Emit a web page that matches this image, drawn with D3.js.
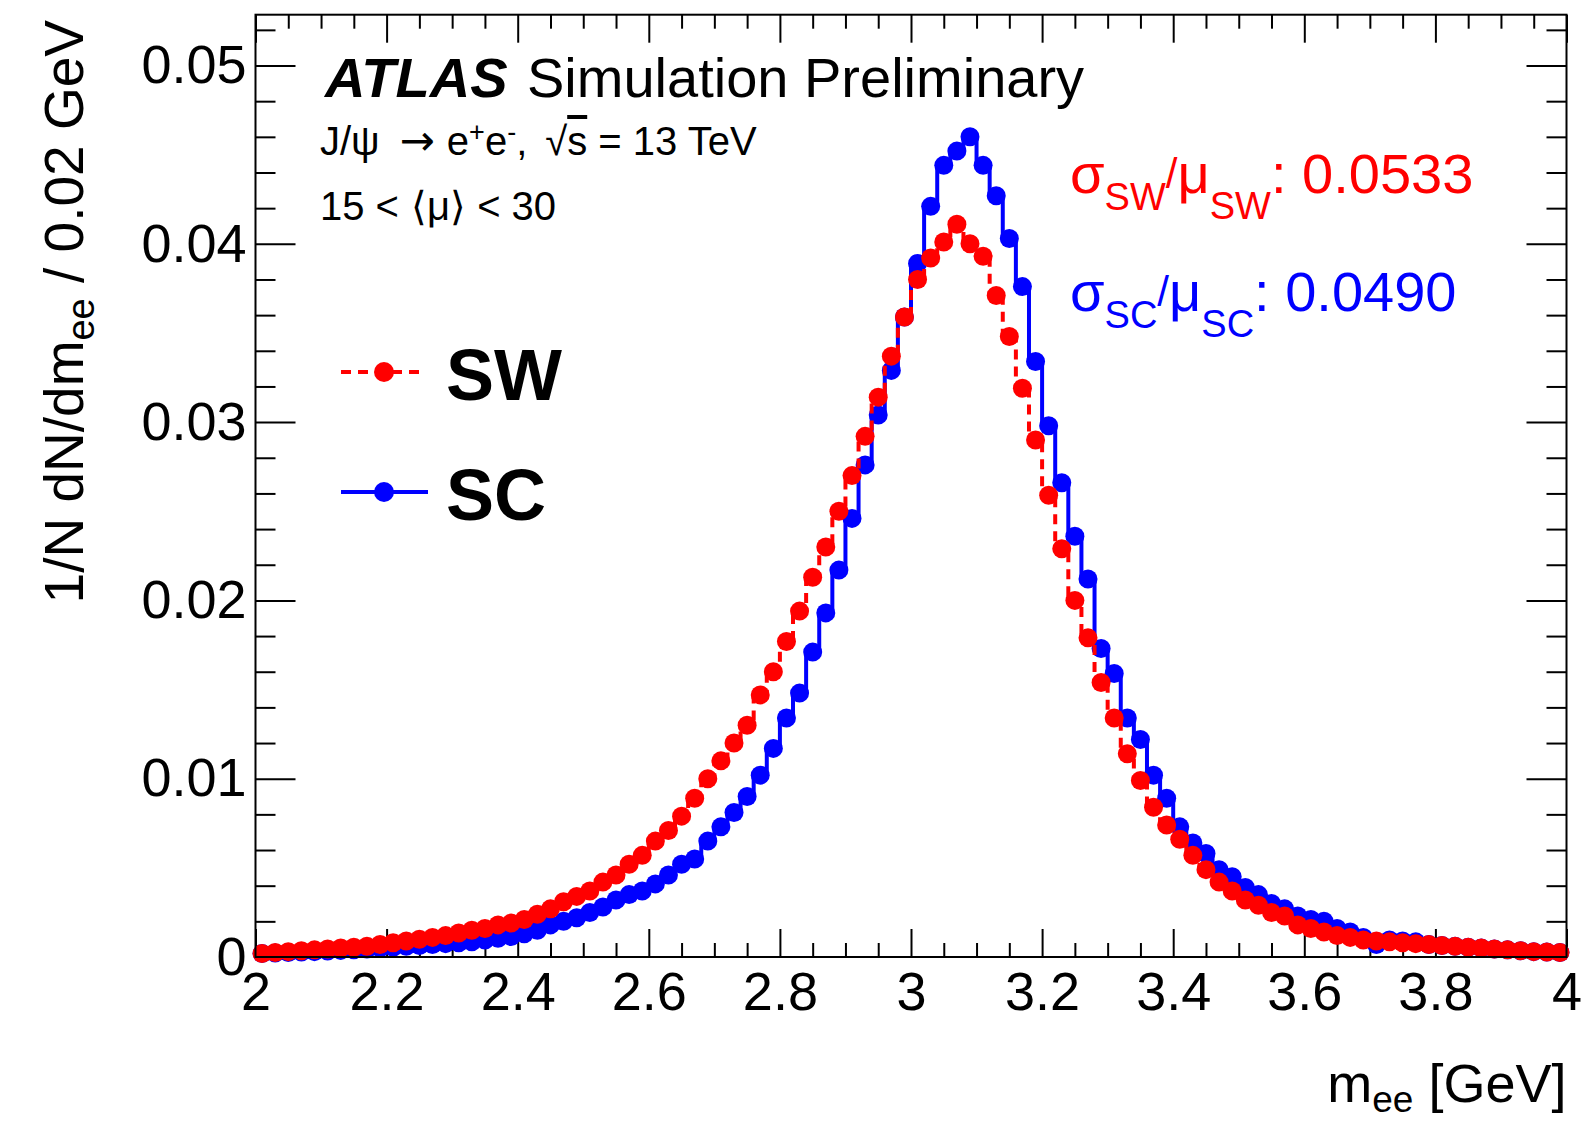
<!DOCTYPE html>
<html>
<head>
<meta charset="utf-8">
<script src="https://cdn.jsdelivr.net/npm/d3@7"></script>
<style>
  html, body { margin: 0; padding: 0; background: #fff; }
  svg { display: block; font-family: "Liberation Sans", Arial, Helvetica, sans-serif; }
</style>
</head>
<body>
<script>
// ---------------- data ----------------
const xMin = 2, xMax = 4, nBins = 100;
const yMax = 0.05285;
const xMajorTicks = [2, 2.2, 2.4, 2.6, 2.8, 3, 3.2, 3.4, 3.6, 3.8, 4];
const xTickLabels = ["2", "2.2", "2.4", "2.6", "2.8", "3", "3.2", "3.4", "3.6", "3.8", "4"];
const yMajorTicks = [0, 0.01, 0.02, 0.03, 0.04, 0.05];
const yTickLabels = ["0", "0.01", "0.02", "0.03", "0.04", "0.05"];

// SW (red, dashed)
const swValues = [
  0.0002, 0.00025, 0.0003, 0.00035, 0.0004, 0.00045, 0.0005, 0.00055, 0.0006, 0.0007,
  0.0008, 0.0009, 0.0010, 0.0011, 0.0012, 0.00135, 0.0015, 0.0016, 0.0018, 0.0019,
  0.0021, 0.0024, 0.0027, 0.0031, 0.0034, 0.0037, 0.0042, 0.0046, 0.0052, 0.0057,
  0.0065, 0.0071, 0.0079, 0.0089, 0.0100, 0.0110, 0.0120, 0.0130, 0.0147, 0.0160,
  0.0177, 0.0194, 0.0213, 0.0230, 0.0250, 0.0270, 0.0292, 0.0314, 0.0337, 0.0359,
  0.0380, 0.0392, 0.0401, 0.0411, 0.0400, 0.0393, 0.0371, 0.0348, 0.0319, 0.0290,
  0.0259, 0.0229, 0.0200, 0.0179, 0.0154, 0.0134, 0.0114, 0.0099, 0.0084, 0.0074,
  0.0066, 0.0057, 0.0049, 0.0042, 0.0037, 0.0032, 0.0029, 0.0025, 0.0023, 0.0018,
  0.0016, 0.0014, 0.0012, 0.0011, 0.00095, 0.0009, 0.00085, 0.0008, 0.00075, 0.0007,
  0.00065, 0.0006, 0.00055, 0.0005, 0.00045, 0.0004, 0.00035, 0.0003, 0.00028, 0.00025
];
// SC (blue, solid)
const scValues = [
  0.0002, 0.00022, 0.00025, 0.00028, 0.0003, 0.00033, 0.00037, 0.0004, 0.00045, 0.0005,
  0.00055, 0.0006, 0.00065, 0.0007, 0.00075, 0.0008, 0.00085, 0.00095, 0.00105, 0.00115,
  0.0013, 0.0015, 0.0018, 0.0020, 0.0022, 0.0025, 0.0028, 0.0032, 0.0035, 0.0037,
  0.0041, 0.0046, 0.0052, 0.0055, 0.0065, 0.0073, 0.0081, 0.0090, 0.0102, 0.0117,
  0.0134, 0.0148, 0.0171, 0.0193, 0.0217, 0.0246, 0.0276, 0.0304, 0.0329, 0.0359,
  0.0389, 0.0421, 0.0444, 0.0452, 0.0460, 0.0444, 0.0427, 0.0403, 0.0376, 0.0334,
  0.0298, 0.0266, 0.0236, 0.0212, 0.0173, 0.0159, 0.0134, 0.0122, 0.0102, 0.0089,
  0.0073, 0.0064, 0.0058, 0.0049, 0.0045, 0.0039, 0.0035, 0.0030, 0.0027, 0.0023,
  0.0021, 0.0020, 0.0016, 0.0014, 0.0011, 0.0007, 0.00095, 0.0009, 0.00085, 0.0007,
  0.00065, 0.0006, 0.00055, 0.0005, 0.00045, 0.0004, 0.00035, 0.0003, 0.00028, 0.00025
];
const seriesNames = ["SW", "SC"];
const seriesColors = ["#ff0000", "#0000ff"];
const ratioValues = ["0.0533", "0.0490"];

// ---------------- layout ----------------
const W = 1595, H = 1123;
const L = 255.5, R = 1566.5, T = 14.7, B = 957;
const FONT = '"Liberation Sans", Arial, Helvetica, sans-serif';

const svg = d3.select("body").append("svg")
  .attr("width", W).attr("height", H).attr("viewBox", `0 0 ${W} ${H}`);
svg.append("rect").attr("width", W).attr("height", H).attr("fill", "#fff");

const x = d3.scaleLinear().domain([xMin, xMax]).range([L, R]);
const y = d3.scaleLinear().domain([0, yMax]).range([B, T]);

const binW = (xMax - xMin) / nBins;
const xMinor = d3.range(0, 41).map(i => xMin + 0.05 * i).filter(v => Math.abs((v - xMin) / 0.2 - Math.round((v - xMin) / 0.2)) > 1e-6);
const yMinor = d3.range(0, 27).map(i => 0.002 * i).filter(v => v <= yMax && Math.abs(v / 0.01 - Math.round(v / 0.01)) > 1e-6);

function styleAxis(g) {
  g.select(".domain").remove();
  g.selectAll(".tick line").attr("stroke", "#000").attr("stroke-width", 2);
  g.selectAll(".tick text").attr("fill", "#000").attr("font-family", FONT).attr("font-size", 54);
}

// bottom axis
svg.append("g").attr("transform", `translate(0,${B})`)
  .call(d3.axisBottom(x).tickValues(xMajorTicks).tickSize(-28).tickPadding(15)
    .tickFormat((d, i) => xTickLabels[i]))
  .call(styleAxis);
svg.append("g").attr("transform", `translate(0,${B})`)
  .call(d3.axisBottom(x).tickValues(xMinor).tickSize(-14).tickFormat(""))
  .call(styleAxis);
// top axis
svg.append("g").attr("transform", `translate(0,${T})`)
  .call(d3.axisTop(x).tickValues(xMajorTicks).tickSize(-28).tickFormat(""))
  .call(styleAxis);
svg.append("g").attr("transform", `translate(0,${T})`)
  .call(d3.axisTop(x).tickValues(xMinor).tickSize(-14).tickFormat(""))
  .call(styleAxis);
// left axis
svg.append("g").attr("transform", `translate(${L},0)`)
  .call(d3.axisLeft(y).tickValues(yMajorTicks).tickSize(-40).tickPadding(9)
    .tickFormat((d, i) => yTickLabels[i]))
  .call(styleAxis);
svg.append("g").attr("transform", `translate(${L},0)`)
  .call(d3.axisLeft(y).tickValues(yMinor).tickSize(-20).tickFormat(""))
  .call(styleAxis);
// right axis
svg.append("g").attr("transform", `translate(${R},0)`)
  .call(d3.axisRight(y).tickValues(yMajorTicks).tickSize(-40).tickFormat(""))
  .call(styleAxis);
svg.append("g").attr("transform", `translate(${R},0)`)
  .call(d3.axisRight(y).tickValues(yMinor).tickSize(-20).tickFormat(""))
  .call(styleAxis);

// ---------------- histograms ----------------
const plot = svg.append("g");
function stepPoints(vals) {
  const pts = vals.map((v, i) => [xMin + i * binW, v]);
  pts.push([xMax, vals[vals.length - 1]]);
  return pts;
}
const stepLine = d3.line().x(d => x(d[0])).y(d => y(d[1])).curve(d3.curveStepAfter);

function drawSeries(vals, color, dash) {
  plot.append("path").datum(stepPoints(vals))
    .attr("d", stepLine).attr("fill", "none").attr("stroke", color)
    .attr("stroke-width", 4).attr("stroke-dasharray", dash);
  plot.append("g").selectAll("circle").data(vals).join("circle")
    .attr("cx", (d, i) => x(xMin + (i + 0.5) * binW))
    .attr("cy", d => y(d))
    .attr("r", 9.5).attr("fill", color);
}
drawSeries(scValues, seriesColors[1], null);
drawSeries(swValues, seriesColors[0], "10,7");

// frame
svg.append("rect").attr("x", L).attr("y", T).attr("width", R - L).attr("height", B - T)
  .attr("fill", "none").attr("stroke", "#000").attr("stroke-width", 2);

// ---------------- texts ----------------
// axis titles
const xt = svg.append("text").attr("x", R).attr("y", 1102).attr("text-anchor", "end")
  .attr("font-family", FONT).attr("font-size", 54).attr("fill", "#000");
xt.append("tspan").text("m");
xt.append("tspan").attr("font-size", 37).attr("dy", 10).text("ee");
xt.append("tspan").attr("dy", -10).text(" [GeV]");

const yt = svg.append("text").attr("transform", "translate(83,20) rotate(-90)")
  .attr("text-anchor", "end").attr("font-family", FONT).attr("font-size", 55).attr("fill", "#000");
yt.append("tspan").text("1/N dN/dm");
yt.append("tspan").attr("font-size", 38).attr("dy", 11).text("ee");
yt.append("tspan").attr("dy", -11).text(" / 0.02 GeV");

// ATLAS label
const at = svg.append("text").attr("x", 325).attr("y", 97).attr("font-family", FONT).attr("font-size", 56).attr("fill", "#000");
at.append("tspan").attr("font-weight", "bold").attr("font-style", "italic").text("ATLAS");
svg.append("text").attr("x", 527).attr("y", 97).attr("font-family", FONT).attr("font-size", 56).attr("fill", "#000")
  .text("Simulation Preliminary");

const l2 = svg.append("text").attr("x", 320).attr("y", 155).attr("font-family", FONT).attr("font-size", 40).attr("fill", "#000");
l2.append("tspan").text("J/\u03C8");
l2.append("tspan").attr("dx", 20).attr("font-family", "'DejaVu Sans', sans-serif").attr("font-size", 42).text("\u2192");
l2.append("tspan").attr("dx", 12).text("e");
l2.append("tspan").attr("font-size", 27).attr("dy", -14).text("+");
l2.append("tspan").attr("dy", 14).text("e");
l2.append("tspan").attr("font-size", 27).attr("dy", -14).text("-");
l2.append("tspan").attr("dy", 14).text(",");
l2.append("tspan").attr("dx", 18).text("\u221A");
l2.append("tspan").attr("text-decoration", "overline").text("s");
l2.append("tspan").text(" = 13 TeV");

const l3 = svg.append("text").attr("x", 320).attr("y", 220).attr("font-family", FONT).attr("font-size", 40).attr("fill", "#000");
l3.append("tspan").text("15 <");
l3.append("tspan").attr("dx", 12).text("\u27E8\u03BC\u27E9");
l3.append("tspan").text(" < 30");

// resolution labels
function ratioLabel(name, val, color, yb) {
  const t = svg.append("text").attr("x", 1070).attr("y", yb).attr("font-family", FONT)
    .attr("font-size", 56).attr("fill", color);
  t.append("tspan").text("\u03C3");
  t.append("tspan").attr("font-size", 38).attr("dy", 17).text(name);
  t.append("tspan").attr("font-size", 42).attr("dy", -22).text("/");
  t.append("tspan").attr("dy", 5).text("\u03BC");
  t.append("tspan").attr("font-size", 38).attr("dy", 26).text(name);
  t.append("tspan").attr("dy", -26).text(": " + val);
}
ratioLabel(seriesNames[0], ratioValues[0], seriesColors[0], 193);
ratioLabel(seriesNames[1], ratioValues[1], seriesColors[1], 311);

// legend
const legY = [372, 492];
const leg = svg.append("g");
leg.append("line").attr("x1", 341).attr("x2", 420).attr("y1", legY[0]).attr("y2", legY[0])
  .attr("stroke", seriesColors[0]).attr("stroke-width", 4).attr("stroke-dasharray", "10,7");
leg.append("line").attr("x1", 341).attr("x2", 428).attr("y1", legY[1]).attr("y2", legY[1])
  .attr("stroke", seriesColors[1]).attr("stroke-width", 4);
seriesNames.forEach((n, i) => {
  leg.append("circle").attr("cx", 384).attr("cy", legY[i]).attr("r", 10).attr("fill", seriesColors[i]);
  leg.append("text").attr("x", 446).attr("y", legY[i] + 28).attr("font-family", FONT)
    .attr("font-size", 72).attr("font-weight", "bold").attr("fill", "#000").text(n);
});
</script>
</body>
</html>
